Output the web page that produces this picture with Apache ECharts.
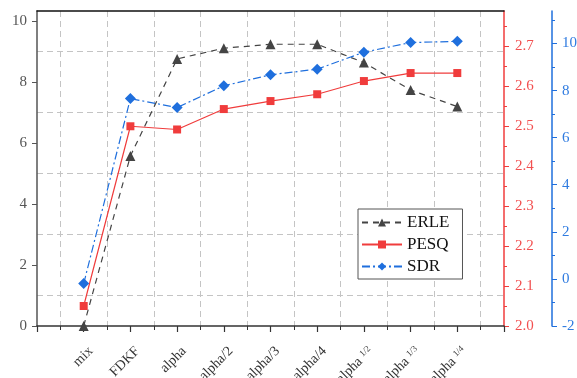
<!DOCTYPE html>
<html><head><meta charset="utf-8">
<script src="https://cdn.jsdelivr.net/npm/echarts@6/dist/echarts.min.js"></script>
<style>html,body{margin:0;padding:0;background:#fff}#c{width:577px;height:378px}</style>
</head><body><div id="c"></div>
<script>
const categories = ['mix','FDKF','alpha','alpha/2','alpha/3','alpha/4','alpha^1/2','alpha^1/3','alpha^1/4'];
const erle = [0, 5.57, 8.75, 9.10, 9.23, 9.23, 8.63, 7.73, 7.19];
const pesq = [2.050, 2.499, 2.491, 2.542, 2.562, 2.579, 2.612, 2.632, 2.632];
const sdr = [-0.2, 7.66, 7.28, 8.2, 8.67, 8.91, 9.63, 10.04, 10.09];
const erleTicks = [0, 2, 4, 6, 8, 10];
const pesqTicks = [2.0, 2.1, 2.2, 2.3, 2.4, 2.5, 2.6, 2.7];
const sdrTicks = [-2, 0, 2, 4, 6, 8, 10];
const catTicks = [-1, 0, 1, 2, 3, 4, 5, 6, 7, 8, 9];

const SERIF = 'Liberation Serif';
const RED = '#F03C3C', BLUE = '#1F6FDD', DARK = '#444444';
const grid = {type:[6,4], color:'#c4c4c4', width:1};

function catLabel(v){
  const i = Math.round(v);
  if (Math.abs(v - i) > 1e-6 || i < 0 || i >= categories.length) return '';
  const c = categories[i];
  const k = c.indexOf('^');
  if (k >= 0) return '{b|' + c.slice(0,k) + ' }{s|' + c.slice(k+1) + '}';
  return '{b|' + c + '}';
}

const chart = echarts.init(document.getElementById('c'), null, {renderer:'canvas'});
chart.setOption({
  animation:false,
  backgroundColor:'#fff',
  grid:{left:37, right:73, top:11, bottom:52, containLabel:false, outerBoundsMode:'none'},
  legend:{
    orient:'vertical', left:358, top:209,
    padding:[5,13,4,3], itemGap:5, itemWidth:40, itemHeight:10,
    borderColor:'#555', borderWidth:1, backgroundColor:'#fff',
    textStyle:{fontFamily:SERIF, fontSize:17, color:'#111'},
    data:['ERLE','PESQ','SDR']
  },
  xAxis:[{
    type:'value', min:-1, max:9, interval:1, position:'bottom',
    axisLine:{onZero:false, lineStyle:{color:'#333', width:1.5}},
    axisTick:{show:true, length:6, lineStyle:{color:'#333', width:1.2}, customValues:catTicks},
    minorTick:{show:true, splitNumber:2, length:4, lineStyle:{color:'#333', width:1}},
    splitLine:{show:false},
    minorSplitLine:{show:true, lineStyle:grid},
    axisLabel:{rotate:45, margin:16, padding:[20,0,0,0], formatter:catLabel, customValues:[0,1,2,3,4,5,6,7,8],
      fontFamily:SERIF,
      rich:{b:{fontFamily:SERIF, fontSize:14, color:'#333', lineHeight:14, verticalAlign:'bottom'},
            s:{fontFamily:SERIF, fontSize:9, color:'#444', lineHeight:14, verticalAlign:'top'}}}
  },{
    type:'value', min:-1, max:9, interval:1, position:'top',
    axisLine:{show:true, onZero:false, lineStyle:{color:'#111', width:1.5}},
    axisTick:{show:false}, axisLabel:{show:false}, splitLine:{show:false}
  }],
  yAxis:[{
    type:'value', min:0, max:10.32, interval:2, position:'left',
    axisLine:{show:true, onZero:false, lineStyle:{color:'#555', width:1.5}},
    axisTick:{show:true, length:5, lineStyle:{color:'#555'}, customValues:erleTicks},
    minorTick:{show:false, splitNumber:2},
    splitLine:{show:false},
    minorSplitLine:{show:true, lineStyle:grid},
    axisLabel:{margin:10, color:'#555', fontFamily:SERIF, fontSize:15, customValues:erleTicks}
  },{
    type:'value', min:2.0, max:2.787, interval:0.1, position:'right',
    axisLine:{show:true, onZero:false, lineStyle:{color:RED, width:1.5}},
    axisTick:{show:true, length:5, lineStyle:{color:RED}, customValues:pesqTicks},
    minorTick:{show:true, splitNumber:2, length:3, lineStyle:{color:RED}},
    splitLine:{show:false},
    axisLabel:{margin:11, color:'#F25050', fontFamily:SERIF, fontSize:15, customValues:pesqTicks,
      formatter:v=>v.toFixed(1)}
  },{
    type:'value', min:-2, max:11.38, interval:2, position:'right', offset:48,
    axisLine:{show:true, onZero:false, lineStyle:{color:BLUE, width:1.5}},
    axisTick:{show:true, length:5, lineStyle:{color:BLUE}, customValues:sdrTicks},
    minorTick:{show:true, splitNumber:2, length:3, lineStyle:{color:BLUE}},
    splitLine:{show:false},
    axisLabel:{margin:10, color:'#2F7BE0', fontFamily:SERIF, fontSize:15, customValues:sdrTicks}
  }],
  series:[{
    name:'ERLE', type:'line', yAxisIndex:0,
    data:erle.map((v,i)=>[i,v]),
    symbol:'triangle', symbolSize:10,
    lineStyle:{color:DARK, width:1.2, type:[6,5]},
    itemStyle:{color:DARK}, z:3
  },{
    name:'PESQ', type:'line', yAxisIndex:1,
    data:pesq.map((v,i)=>[i,v]),
    symbol:'rect', symbolSize:8,
    lineStyle:{color:RED, width:1.2, type:'solid'},
    itemStyle:{color:RED}, z:4
  },{
    name:'SDR', type:'line', yAxisIndex:2,
    data:sdr.map((v,i)=>[i,v]),
    symbol:'diamond', symbolSize:11,
    lineStyle:{color:BLUE, width:1.2, type:[8,3,2,3]},
    itemStyle:{color:BLUE}, z:5
  }]
});
</script></body></html>
